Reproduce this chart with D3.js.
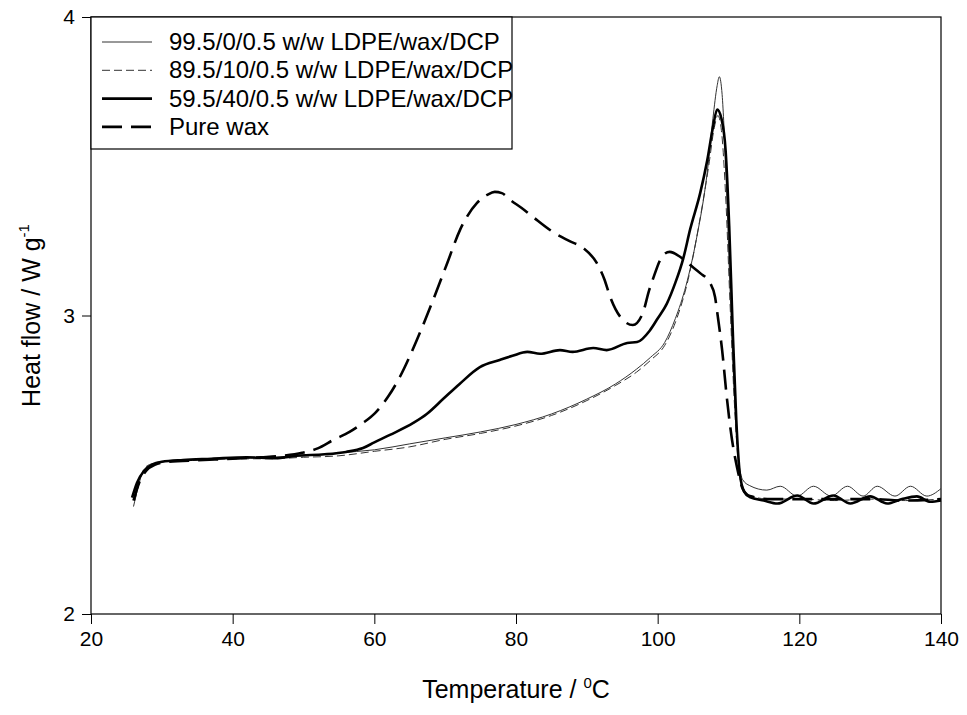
<!DOCTYPE html>
<html>
<head>
<meta charset="utf-8">
<script src="https://cdn.jsdelivr.net/npm/d3@7"></script>
<style>
  body { margin: 0; background: #fff; }
  text { font-family: "Liberation Sans", Arial, sans-serif; fill: #000; }
</style>
</head>
<body>
<div id="chart"></div>
<script>
// DSC heating curves, [temperature (C), heat flow (W/g)]
var xTicks = [20, 40, 60, 80, 100, 120, 140];
var yTicks = [2, 3, 4];

var ldpe0 = [[26.0,2.36],[26.6,2.42],[27.4,2.48],[28.5,2.50],[30,2.51],[33,2.515],[36,2.52],[40,2.52],[45,2.525],[50,2.53],[55,2.54],[60,2.55],[65,2.57],[70,2.59],[75,2.61],[80,2.635],[85,2.67],[90,2.72],[94,2.77],[97,2.82],[99,2.86],[101,2.91],[102.5,2.99],[104,3.10],[105.5,3.26],[107,3.48],[107.8,3.66],[108.4,3.77],[108.7,3.80],[109.1,3.74],[109.6,3.50],[110.2,3.10],[110.8,2.75],[111.4,2.52],[112,2.45],[113,2.43],[115.4,2.415],[117.3,2.428],[119.7,2.395],[122,2.428],[124.5,2.395],[126.8,2.428],[129,2.395],[131,2.428],[133.5,2.395],[135.7,2.428],[138,2.395],[140,2.42]];

var wax10 = [[26.2,2.38],[26.8,2.44],[27.6,2.49],[28.8,2.505],[30,2.51],[35,2.515],[40,2.52],[45,2.52],[50,2.525],[55,2.53],[60,2.545],[65,2.56],[70,2.585],[75,2.605],[80,2.63],[85,2.665],[90,2.715],[94,2.765],[97,2.81],[99,2.85],[101,2.90],[102.7,2.99],[104.3,3.12],[105.8,3.30],[107.2,3.50],[108,3.63],[108.5,3.67],[109,3.62],[109.6,3.40],[110.2,3.05],[110.8,2.72],[111.4,2.50],[112,2.42],[113,2.395],[116,2.385],[120,2.385],[125,2.38],[130,2.385],[135,2.38],[140,2.385]];

var wax40 = [[25.8,2.39],[26.5,2.44],[27.5,2.48],[28.6,2.50],[30,2.51],[33,2.516],[37,2.52],[42,2.525],[46,2.522],[49,2.53],[53,2.535],[56,2.543],[58.4,2.556],[60,2.575],[62.2,2.60],[65.5,2.64],[67.4,2.67],[69.7,2.72],[72,2.77],[74.9,2.827],[77.7,2.851],[79.5,2.865],[81.6,2.878],[83.4,2.872],[86.2,2.884],[88,2.878],[90.9,2.891],[92.8,2.884],[95.7,2.908],[97.1,2.911],[98.9,2.95],[100,2.99],[101.3,3.04],[102.5,3.11],[103.6,3.19],[104.6,3.29],[106,3.41],[107,3.52],[107.8,3.63],[108.4,3.69],[109,3.66],[109.6,3.55],[110.1,3.30],[110.6,2.95],[111.1,2.65],[111.6,2.47],[112.2,2.41],[113,2.392],[115,2.38],[116.9,2.37],[119.7,2.397],[122,2.37],[124.8,2.397],[127.2,2.37],[130,2.394],[132.4,2.37],[134.5,2.385],[136.6,2.394],[138.5,2.376],[140,2.38]];

var pureWax = [[26,2.38],[26.8,2.44],[27.8,2.48],[29,2.50],[31,2.51],[35,2.515],[40,2.52],[44,2.525],[47,2.53],[49.8,2.54],[52,2.555],[54.2,2.583],[56.5,2.61],[58.4,2.64],[60.1,2.673],[62,2.73],[63.6,2.794],[66,2.918],[68.3,3.052],[70.3,3.176],[72.1,3.287],[74.5,3.377],[76,3.405],[77,3.414],[78,3.41],[79.2,3.387],[80.8,3.36],[82.4,3.33],[85.2,3.28],[87.5,3.25],[89.5,3.226],[91.4,3.176],[92.5,3.12],[93.3,3.062],[95.1,2.985],[96.5,2.968],[97.9,3.008],[98.8,3.085],[99.3,3.12],[100.8,3.203],[101.7,3.213],[103.2,3.196],[104.6,3.169],[106,3.142],[107.4,3.109],[108.1,3.062],[108.5,2.995],[109.1,2.884],[109.8,2.717],[110.5,2.583],[111.2,2.492],[112,2.42],[113,2.395],[116,2.385],[120,2.385],[125,2.385],[130,2.385],[135,2.38],[140,2.385]];

var seriesNames = ["99.5/0/0.5 w/w LDPE/wax/DCP", "89.5/10/0.5 w/w LDPE/wax/DCP", "59.5/40/0.5 w/w LDPE/wax/DCP", "Pure wax"];

var styles = [
  {w: 1, dash: null, color: "#333"},
  {w: 1, dash: "8,4", color: "#333"},
  {w: 2.6, dash: null, color: "#000"},
  {w: 2.6, dash: "20,9", color: "#000"}
];
var allSeries = [ldpe0, wax10, wax40, pureWax];

var W = 967, H = 715;
var margin = {top: 17, right: 26, bottom: 101, left: 91};
var width = W - margin.left - margin.right,
    height = H - margin.top - margin.bottom;

var svg = d3.select("#chart").append("svg")
  .attr("width", W)
  .attr("height", H);
var g = svg.append("g")
  .attr("transform", "translate(" + margin.left + "," + margin.top + ")");

var x = d3.scaleLinear().domain([20, 140]).range([0, width]);
var y = d3.scaleLinear().domain([2, 4]).range([height, 0]);

// axes
var xAxis = g.append("g")
  .attr("transform", "translate(0," + height + ")")
  .call(d3.axisBottom(x).tickValues(xTicks).tickSize(10).tickPadding(7).tickFormat(d3.format("d")));
var yAxis = g.append("g")
  .call(d3.axisLeft(y).tickValues(yTicks).tickSize(9).tickPadding(7).tickFormat(d3.format("d")));
[xAxis, yAxis].forEach(function(a) {
  a.select(".domain").remove();
  a.selectAll("line").attr("stroke", "#000").attr("stroke-width", 1);
  a.selectAll("text").style("font-family", "Liberation Sans, Arial, sans-serif").style("font-size", "21px").attr("fill", "#000");
});

// frame
g.append("rect")
  .attr("x", 0).attr("y", 0)
  .attr("width", width).attr("height", height)
  .attr("fill", "none").attr("stroke", "#000").attr("stroke-width", 1.2);

var line = d3.line()
  .x(function(d) { return x(d[0]); })
  .y(function(d) { return y(d[1]); })
  .curve(d3.curveMonotoneX);

for (var i in allSeries) {
  g.append("path")
    .datum(allSeries[i])
    .attr("fill", "none")
    .attr("stroke", styles[i].color)
    .attr("stroke-width", styles[i].w)
    .attr("stroke-dasharray", styles[i].dash)
    .attr("stroke-linejoin", "round")
    .attr("d", line);
}

// legend
var legend = g.append("g");
legend.append("rect")
  .attr("x", 0).attr("y", 0)
  .attr("width", 421).attr("height", 132)
  .attr("fill", "#fff").attr("stroke", "#000").attr("stroke-width", 1.2);
seriesNames.forEach(function(name, k) {
  var ly = 25 + k * 28.3;
  legend.append("line")
    .attr("x1", 11).attr("x2", 61)
    .attr("y1", ly).attr("y2", ly)
    .attr("stroke", styles[k].color)
    .attr("stroke-width", styles[k].w)
    .attr("stroke-dasharray", styles[k].dash);
  legend.append("text")
    .attr("x", 78).attr("y", ly + 8)
    .style("font-size", "24px")
    .text(name);
});

// axis titles
var xt = svg.append("text")
  .attr("x", margin.left + width / 2)
  .attr("y", 698)
  .attr("text-anchor", "middle")
  .style("font-size", "25px");
xt.append("tspan").text("Temperature / ");
xt.append("tspan").attr("dy", -10).style("font-size", "15px").text("0");
xt.append("tspan").attr("dy", 10).text("C");

var yt = svg.append("text")
  .attr("transform", "translate(40," + (margin.top + height / 2) + ") rotate(-90)")
  .attr("text-anchor", "middle")
  .style("font-size", "25px");
yt.append("tspan").text("Heat flow / W g");
yt.append("tspan").attr("dy", -11).style("font-size", "15px").text("-1");
</script>
</body>
</html>
